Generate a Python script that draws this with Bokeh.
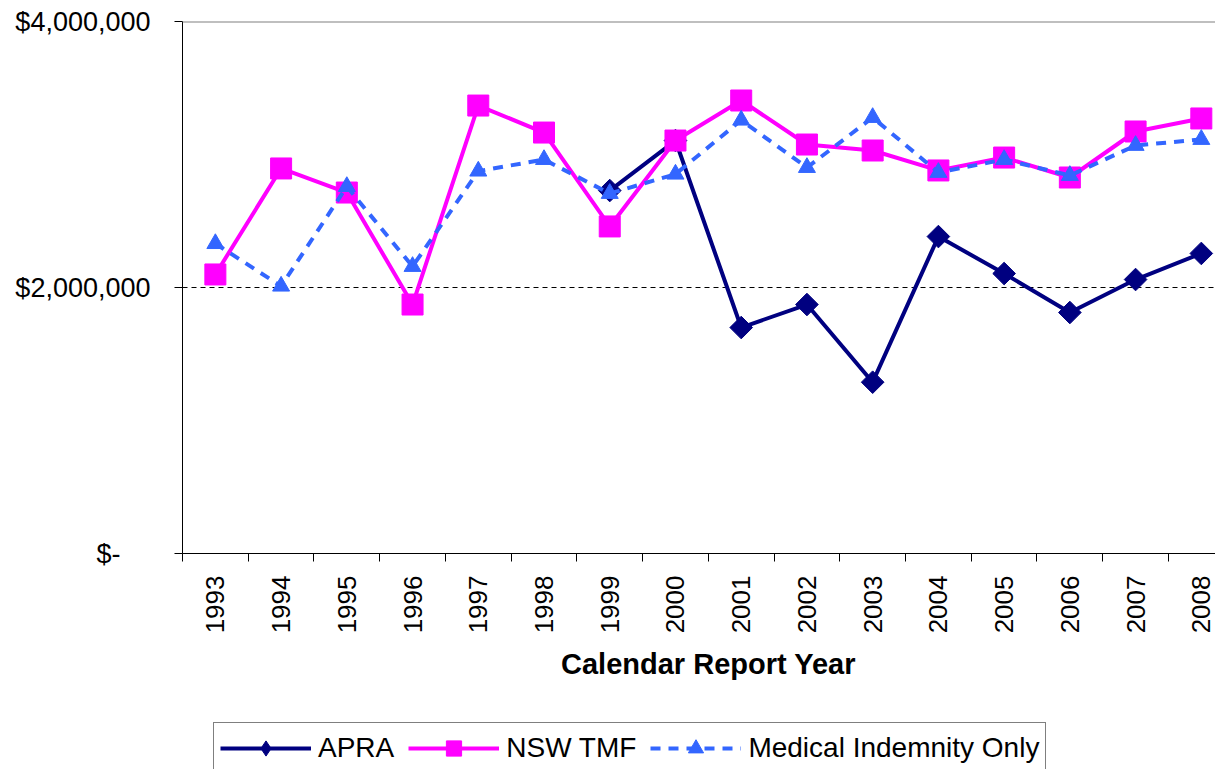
import numpy as np
from bokeh.plotting import figure
from bokeh.layouts import column
from bokeh.models import Range1d, FixedTicker, Legend, LegendItem, Label, ColumnDataSource, Span
from bokeh.embed import file_html
from bokeh.resources import INLINE

years = list(range(1993, 2009))
apra = [None, None, None, None, None, None,
        2729000, 3105000, 1699000, 1872000, 1288000, 2383000, 2105000, 1812000, 2060000, 2256000]
nsw_tmf = [2098000, 2895000, 2714000, 1872000, 3368000, 3165000, 2459000, 3105000,
           3406000, 3075000, 3030000, 2880000, 2977000, 2827000, 3173000, 3271000]
medical = [2330000, 2010000, 2759000, 2158000, 2875000, 2962000, 2707000, 2852000,
           3258000, 2902000, 3278000, 2865000, 2962000, 2842000, 3068000, 3113000]
y_ticks = [0, 2000000, 4000000]
y_labels = ["$-\u00a0\u00a0\u00a0\u00a0", "$2,000,000", "$4,000,000"]
series_names = ["APRA", "NSW TMF", "Medical Indemnity Only"]
x_title = "Calendar Report Year"

FONT = "Liberation Sans"
C_APRA, C_NSW, C_MED = "#000080", "#FF00FF", "#3366FF"
LEFT = 182

def arr(v):
    return np.array([np.nan if x is None else x for x in v], dtype=float)

src = ColumnDataSource(dict(x=years, apra=arr(apra), nsw=arr(nsw_tmf), med=arr(medical)))

W = 1215
p = figure(width=W, height=640, output_backend="svg", toolbar_location=None,
           x_range=Range1d(1992.5, 1992.5 + 1033 / 65.73),
           y_range=Range1d(0, 4000000),
           min_border_left=LEFT, min_border_right=0, min_border_top=21, min_border_bottom=87)
p.background_fill_color = "white"
p.border_fill_color = "white"
p.outline_line_color = None

p.xgrid.visible = False
p.ygrid.ticker = FixedTicker(ticks=[2000000])
p.ygrid.grid_line_color = "black"
p.ygrid.grid_line_dash = "5 4"
p.ygrid.grid_line_width = 1
p.add_layout(Span(location=y_ticks[-1], dimension="width", line_color="#808080", line_width=2))

# y axis
ya = p.yaxis[0]
ya.ticker = FixedTicker(ticks=y_ticks)
ya.major_label_overrides = dict(zip(y_ticks, y_labels))
ya.major_tick_in = 0
ya.major_tick_out = 8
ya.minor_tick_out = 0
ya.minor_tick_in = 0
ya.major_label_standoff = 24
ya.major_label_text_font = FONT
ya.major_label_text_font_size = "27px"
ya.major_label_text_color = "black"
ya.axis_line_color = "black"
ya.major_tick_line_color = "black"

# x axis
xa = p.xaxis[0]
xa.ticker = FixedTicker(ticks=years, minor_ticks=[y - 0.5 for y in years] + [years[-1] + 0.5])
xa.major_label_overrides = {y: str(y) for y in years}
xa.major_tick_in = 0
xa.major_tick_out = 0
xa.minor_tick_in = 0
xa.minor_tick_out = 8
xa.minor_tick_line_color = "black"
xa.major_label_orientation = np.pi / 2
xa.major_label_standoff = 14
xa.major_label_text_font = FONT
xa.major_label_text_font_size = "26px"
xa.major_label_text_color = "black"
xa.axis_line_color = "black"

# series
p.line("x", "apra", source=src, line_color=C_APRA, line_width=4)
p.scatter("x", "apra", source=src, marker="square", angle=np.pi / 4, size=16,
          fill_color=C_APRA, line_color=C_APRA)
p.line("x", "nsw", source=src, line_color=C_NSW, line_width=4)
p.scatter("x", "nsw", source=src, marker="square", size=21,
          fill_color=C_NSW, line_color=C_NSW)
p.line("x", "med", source=src, line_color=C_MED, line_width=4, line_dash="10 8")
p.scatter("x", "med", source=src, marker="triangle", size=17,
          fill_color=C_MED, line_color=C_MED)

# ---- bottom strip: axis title + legend ----
H2 = 129
q = figure(width=W, height=H2, output_backend="svg", toolbar_location=None,
           x_range=Range1d(0, W), y_range=Range1d(0, H2),
           x_axis_type=None, y_axis_type=None,
           min_border_left=0, min_border_right=0, min_border_top=0, min_border_bottom=0)
q.outline_line_color = None
q.xgrid.visible = False
q.ygrid.visible = False
q.background_fill_color = "white"
q.border_fill_color = "white"

dummy = ColumnDataSource(dict(x=[-1000.0], y=[-1000.0]))
d1l = q.line("x", "y", source=dummy, line_color=C_APRA, line_width=4)
d1s = q.scatter("x", "y", source=dummy, marker="diamond", size=16,
                fill_color=C_APRA, line_color=C_APRA)
d2l = q.line("x", "y", source=dummy, line_color=C_NSW, line_width=4)
d2s = q.scatter("x", "y", source=dummy, marker="square", size=21,
                fill_color=C_NSW, line_color=C_NSW)
d3l = q.line("x", "y", source=dummy, line_color=C_MED, line_width=4, line_dash="10 8")
d3s = q.scatter("x", "y", source=dummy, marker="triangle", size=17,
                fill_color=C_MED, line_color=C_MED)

title = Label(x=708 - LEFT, y=H2 - 23, x_units="screen", y_units="screen", text=x_title,
              text_align="center", text_baseline="middle", text_font=FONT,
              text_font_size="29px", text_font_style="bold", text_color="black")
q.add_layout(title)

legend = Legend(items=[LegendItem(label=series_names[0], renderers=[d1l, d1s]),
                       LegendItem(label=series_names[1], renderers=[d2l, d2s]),
                       LegendItem(label=series_names[2], renderers=[d3l, d3s])],
                orientation="horizontal", location=(213 - LEFT, -5))
legend.border_line_color = "black"
legend.border_line_width = 1
legend.background_fill_color = "white"
legend.background_fill_alpha = 1
legend.label_text_font = FONT
legend.label_text_font_size = "28px"
legend.label_text_color = "black"
legend.glyph_width = 91
legend.glyph_height = 38
legend.label_height = 38
legend.label_standoff = 7
legend.spacing = 14
legend.padding = 6
legend.margin = 0
q.add_layout(legend)

layout = column(p, q, spacing=0)
open("out.html", "w").write(file_html(layout, INLINE))
